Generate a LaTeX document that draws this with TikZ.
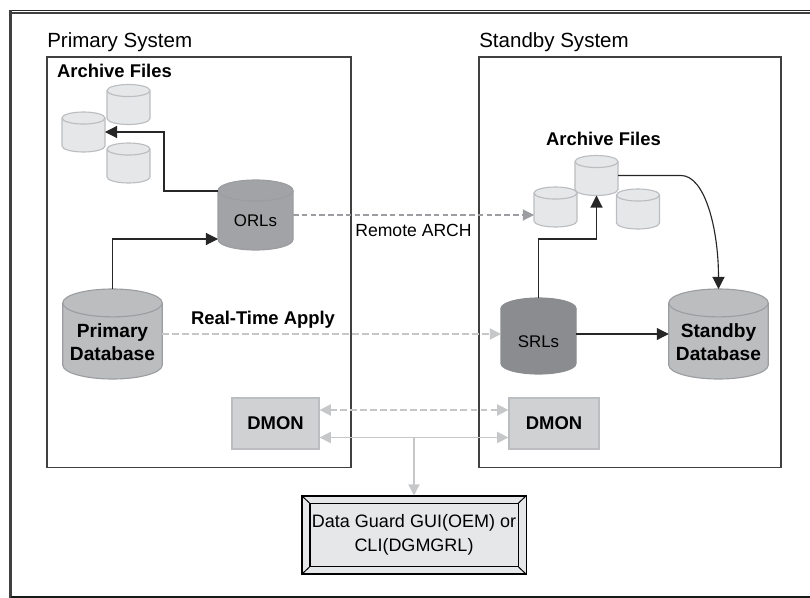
\documentclass[tikz,border=0pt]{standalone}
\usepackage{fontspec}
\setmainfont{Liberation Sans}
\usetikzlibrary{arrows.meta,calc}
\definecolor{filecol}{HTML}{E6E7E8}
\definecolor{dbcol}{HTML}{BCBDBF}
\definecolor{orlcol}{HTML}{A2A3A6}
\definecolor{srlcol}{HTML}{8B8C8F}
\definecolor{dmoncol}{HTML}{D0D1D3}
\definecolor{edgecol}{HTML}{BCBDC0}
\definecolor{linkcol}{HTML}{C6C7C9}
\definecolor{remotecol}{HTML}{9C9DA0}
\tikzset{
  filecyl/.style={draw=edgecol, line width=0.8pt, fill=filecol},
  dbcyl/.style={draw=remotecol, line width=0.8pt, fill=dbcol},
  dbtext/.style={align=center, inner sep=0pt, font=\fontsize{13.6}{16.5}\selectfont\bfseries},
  redotext/.style={inner sep=0pt, font=\fontsize{12}{14}\selectfont},
  boldtext/.style={font=\fontsize{13.1}{16}\selectfont\bfseries},
  title/.style={font=\fontsize{14.6}{17}\selectfont, anchor=west, inner sep=0pt},
  dmon/.style={draw=edgecol, line width=0.9pt, fill=dmoncol, minimum height=1.275cm, inner sep=0pt, font=\fontsize{13.1}{16}\selectfont\bfseries},
  flow/.style={-{Triangle[length=0.3cm,width=0.3cm]}, line width=0.8pt, black!85},
  remote/.style={-{Triangle[length=0.28cm,width=0.28cm]}, line width=0.8pt, remotecol, dash pattern=on 0.14cm off 0.08cm},
  apply/.style={-{Triangle[length=0.28cm,width=0.28cm]}, line width=1pt, linkcol, dash pattern=on 0.16cm off 0.09cm},
  bus/.style={{Triangle[length=0.28cm,width=0.28cm]}-{Triangle[length=0.28cm,width=0.28cm]}, line width=1.1pt, linkcol},
  drop/.style={-{Triangle[length=0.28cm,width=0.28cm]}, line width=1.1pt, linkcol},
}
\newcommand\drum[6]{
  \filldraw[#6] ({#2-#4/2},{#3-#5/2+0.14*#4}) arc[start angle=180,end angle=360,x radius=#4/2,y radius=0.14*#4]
    -- ({#2+#4/2},{#3+#5/2-0.14*#4}) arc[start angle=0,end angle=180,x radius=#4/2,y radius=0.14*#4] -- cycle;
  \draw[#6] ({#2-#4/2},{#3-#5/2+0.14*#4}) arc[start angle=180,end angle=0,x radius=#4/2,y radius=0.14*#4];
  \node[inner sep=0pt, outer sep=0pt, minimum width=#4*0.025cm, minimum height=#5*0.025cm] (#1) at (#2,#3) {};
}
\begin{document}
\begin{tikzpicture}[x=0.025cm,y=-0.025cm]
\useasboundingbox (0,0) rectangle (810,598);
\draw[line width=0.8pt,black!85] (810,10.5) -- (10,10.5);
\draw[line width=1pt,black!75] (810,13.2) -- (12,13.2);
\draw[line width=2.2pt,black!75] (10.5,9.8) -- (10.5,598);
\draw[line width=2pt,black!90] (11,597) -- (810,597);
\draw[line width=0.9pt,black!75] (47,57) rectangle (351,467.5);
\draw[line width=0.9pt,black!75] (479,57) rectangle (781,467.5);
\node[title] (primary) at (47,42) {Primary System};
\node[title] (standby) at (479,42) {Standby System};
\node[boldtext] (afleft) at (114.5,71) {Archive Files};
\node[boldtext] (afright) at (603.5,139) {Archive Files};
\drum{fa}{128.5}{104.5}{43}{40}{filecyl}
\drum{fb}{83.5}{132}{43}{40}{filecyl}
\drum{fc}{128.5}{163}{43}{40}{filecyl}
\drum{sa}{596.5}{175.5}{43}{40}{filecyl}
\drum{sb}{555.5}{207}{43}{40}{filecyl}
\drum{sc}{638}{209}{43}{40}{filecyl}
\drum{orls}{255.5}{215}{75}{70}{draw=remotecol, line width=0.8pt, fill=orlcol}
\drum{srls}{538.5}{336}{75}{76}{draw=srlcol, line width=0.8pt, fill=srlcol}
\drum{pdb}{112.5}{334}{99.5}{90}{dbcyl}
\drum{sdb}{718.5}{334}{99.5}{90}{dbcyl}
\node[redotext] (orlstext) at ($(orls)+(0,6)$) {ORLs};
\node[redotext] (srlstext) at ($(srls)+(0,6)$) {SRLs};
\node[dbtext] (pdbtext) at ($(pdb)+(0,8)$) {Primary\\Database};
\node[dbtext] (sdbtext) at ($(sdb)+(0,8)$) {Standby\\Database};
\node[dmon, minimum width=2.175cm] (dmonl) at (275.5,423.5) {DMON};
\node[dmon, minimum width=2.25cm] (dmonr) at (554,423.5) {DMON};
\node[draw, line width=0.75pt, fill=filecol, minimum width=5.6cm, minimum height=1.95cm] (guiouter) at (414,535) {};
\node[draw, line width=0.75pt, fill=filecol, minimum width=5.2cm, minimum height=1.575cm, inner sep=0pt, align=center, font=\fontsize{12.8}{17}\selectfont] (gui) at (414,535) {Data Guard GUI(OEM) or\\CLI(DGMGRL)};
\foreach \c in {north west,north east,south west,south east}
  \draw[line width=0.7pt] (guiouter.\c) -- (gui.\c);
\node[font=\fontsize{12.5}{15}\selectfont] (remotearch) at (413.5,230) {Remote ARCH};
\node[boldtext] (rtapply) at (263,320) {Real-Time Apply};
\draw[flow] ($(orls.north west)+(0,11)$) -| (164,132) -- (fb.east);
\draw[flow] (pdb.north) |- ($(orls.west)+(0,24)$);
\draw[flow] (srls.north) -- ++(0,-59) -| (sa.south);
\draw[flow] (sdb.west -| srls.east) -- (sdb.west);
\draw[flow] (sa.east) -- ++(63,0) .. controls +(24,0) and +(0,-60) .. (sdb.north);
\draw[remote] (orls.east) -- (orls.east -| sb.west);
\draw[apply] (pdb.east) -- (pdb.east -| srls.west);
\draw[bus, dash pattern=on 0.16cm off 0.09cm] ($(dmonl.east)+(0,-13.5)$) -- ($(dmonr.west)+(0,-13.5)$);
\draw[bus] ($(dmonl.east)+(0,14)$) -- ($(dmonr.west)+(0,14)$);
\coordinate (tap) at (414,437.5);
\draw[drop] (tap) -- (guiouter.north);
\end{tikzpicture}
\end{document}
